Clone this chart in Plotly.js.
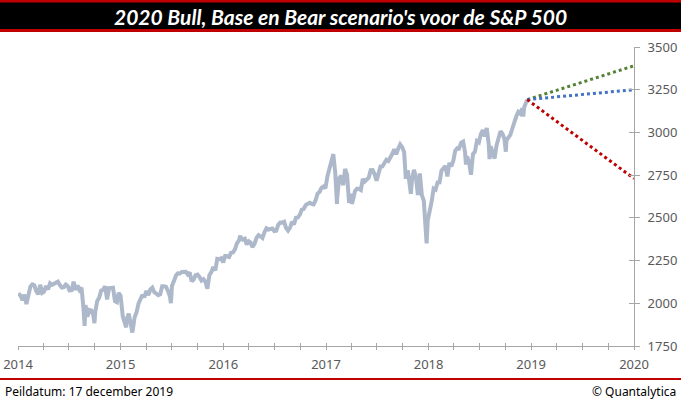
<!DOCTYPE html>
<html>
<head>
<meta charset="utf-8">
<script src="https://cdn.plot.ly/plotly-3.0.1.min.js"></script>
<style>html,body{margin:0;padding:0;background:#fff;}#chart{width:681px;height:399px;}</style>
</head>
<body>
<div id="chart"></div>
<script>
// S&P 500 (approximate weekly closes)
const dates2015 = ['2015-01-02','2015-01-09','2015-01-16','2015-01-23','2015-01-30','2015-02-06','2015-02-13','2015-02-20','2015-02-27','2015-03-06','2015-03-13','2015-03-20','2015-03-27','2015-04-02','2015-04-10','2015-04-17','2015-04-24','2015-05-01','2015-05-08','2015-05-15','2015-05-22','2015-05-29','2015-06-05','2015-06-12','2015-06-19','2015-06-26','2015-07-02','2015-07-10','2015-07-17','2015-07-24','2015-07-31','2015-08-07','2015-08-14','2015-08-21','2015-08-25','2015-08-28','2015-09-04','2015-09-11','2015-09-18','2015-09-25','2015-09-29','2015-10-02','2015-10-09','2015-10-16','2015-10-23','2015-10-30','2015-11-06','2015-11-13','2015-11-20','2015-11-27','2015-12-04','2015-12-11','2015-12-18','2015-12-24','2015-12-31'];
const close2015 = [2058,2044,2019,2051,1995,2055,2097,2110,2105,2071,2053,2108,2061,2067,2102,2081,2117,2108,2116,2123,2126,2107,2092,2094,2110,2101,2076,2077,2126,2079,2104,2078,2092,1971,1868,1989,1921,1961,1958,1931,1884,1951,2014,2033,2075,2079,2099,2023,2089,2090,2091,2012,2006,2061,2044];

const dates2016 = ['2016-01-08','2016-01-15','2016-01-20','2016-01-22','2016-01-29','2016-02-05','2016-02-11','2016-02-19','2016-02-26','2016-03-04','2016-03-11','2016-03-18','2016-03-24','2016-04-01','2016-04-08','2016-04-15','2016-04-22','2016-04-29','2016-05-06','2016-05-13','2016-05-20','2016-05-27','2016-06-03','2016-06-10','2016-06-17','2016-06-24','2016-06-27','2016-07-01','2016-07-08','2016-07-15','2016-07-22','2016-07-29','2016-08-05','2016-08-12','2016-08-19','2016-08-26','2016-09-02','2016-09-09','2016-09-16','2016-09-23','2016-09-30','2016-10-07','2016-10-14','2016-10-21','2016-10-28','2016-11-04','2016-11-11','2016-11-18','2016-11-25','2016-12-02','2016-12-09','2016-12-16','2016-12-23','2016-12-30'];
const close2016 = [1922,1880,1859,1907,1940,1880,1829,1918,1948,2000,2022,2050,2035,2073,2048,2081,2092,2065,2057,2047,2052,2099,2099,2096,2071,2037,2001,2103,2130,2162,2175,2174,2183,2184,2184,2169,2180,2128,2139,2165,2168,2153,2133,2141,2126,2085,2164,2182,2213,2192,2260,2258,2264,2239];

const dates2017 = ['2017-01-06','2017-01-13','2017-01-20','2017-01-27','2017-02-03','2017-02-10','2017-02-17','2017-02-24','2017-03-01','2017-03-03','2017-03-10','2017-03-17','2017-03-24','2017-03-31','2017-04-07','2017-04-13','2017-04-21','2017-04-28','2017-05-05','2017-05-12','2017-05-19','2017-05-26','2017-06-02','2017-06-09','2017-06-16','2017-06-23','2017-06-30','2017-07-07','2017-07-14','2017-07-21','2017-07-28','2017-08-04','2017-08-11','2017-08-18','2017-08-25','2017-09-01','2017-09-08','2017-09-15','2017-09-22','2017-09-29','2017-10-06','2017-10-13','2017-10-20','2017-10-27','2017-11-03','2017-11-10','2017-11-17','2017-11-24','2017-12-01','2017-12-08','2017-12-15','2017-12-22','2017-12-29'];
const close2017 = [2277,2275,2271,2295,2297,2316,2351,2367,2396,2383,2373,2378,2344,2363,2355,2329,2349,2384,2399,2391,2382,2416,2439,2432,2433,2438,2423,2425,2459,2473,2472,2477,2441,2426,2443,2477,2461,2500,2502,2519,2549,2553,2575,2581,2588,2582,2579,2603,2642,2652,2676,2684,2674];

const dates2018 = ['2018-01-05','2018-01-12','2018-01-19','2018-01-26','2018-02-02','2018-02-05','2018-02-08','2018-02-09','2018-02-16','2018-02-23','2018-03-02','2018-03-09','2018-03-16','2018-03-23','2018-03-29','2018-04-02','2018-04-06','2018-04-13','2018-04-20','2018-04-27','2018-05-04','2018-05-11','2018-05-18','2018-05-25','2018-06-01','2018-06-08','2018-06-15','2018-06-22','2018-06-29','2018-07-06','2018-07-13','2018-07-20','2018-07-27','2018-08-03','2018-08-10','2018-08-17','2018-08-24','2018-08-31','2018-09-07','2018-09-14','2018-09-21','2018-09-28','2018-10-05','2018-10-11','2018-10-12','2018-10-19','2018-10-26','2018-10-29','2018-11-02','2018-11-09','2018-11-16','2018-11-23','2018-11-30','2018-12-07','2018-12-14','2018-12-21','2018-12-24','2018-12-28','2018-12-31'];
const close2018 = [2743,2787,2810,2873,2762,2649,2581,2620,2732,2747,2691,2786,2752,2588,2641,2582,2604,2656,2670,2670,2663,2728,2713,2721,2735,2779,2780,2755,2718,2760,2801,2802,2819,2840,2833,2850,2875,2902,2872,2905,2930,2914,2886,2728,2767,2768,2658,2641,2723,2781,2736,2633,2760,2633,2600,2417,2351,2486,2507];

const dates2019 = ['2019-01-04','2019-01-11','2019-01-18','2019-01-25','2019-02-01','2019-02-08','2019-02-15','2019-02-22','2019-03-01','2019-03-08','2019-03-15','2019-03-22','2019-03-29','2019-04-05','2019-04-12','2019-04-18','2019-04-26','2019-05-03','2019-05-10','2019-05-13','2019-05-17','2019-05-24','2019-05-31','2019-06-07','2019-06-14','2019-06-21','2019-06-28','2019-07-05','2019-07-12','2019-07-19','2019-07-26','2019-08-02','2019-08-05','2019-08-09','2019-08-16','2019-08-23','2019-08-30','2019-09-06','2019-09-13','2019-09-20','2019-09-27','2019-10-02','2019-10-04','2019-10-11','2019-10-18','2019-10-25','2019-11-01','2019-11-08','2019-11-15','2019-11-22','2019-11-29','2019-12-03','2019-12-06','2019-12-13','2019-12-17'];
const close2019 = [2532,2596,2671,2665,2707,2708,2776,2793,2804,2743,2822,2801,2834,2893,2907,2905,2940,2946,2881,2812,2860,2826,2752,2873,2887,2950,2942,2990,3014,2977,3026,2932,2844,2919,2889,2847,2926,2979,3007,2992,2962,2887,2952,2970,2986,3023,3067,3093,3120,3110,3141,3093,3146,3169,3192];

// 2020 scenarios (start = last close, end = year-end target)
const scenarioDates = ['2019-12-17','2020-12-31'];
const bullValues = [3192, 3390];
const baseValues = [3192, 3250];
const bearValues = [3192, 2730];

// Axis ticks
const yearTickDates = ['2014-12-31','2015-12-31','2016-12-31','2017-12-31','2018-12-31','2019-12-31','2020-12-31'];
const yearTickLabels = ['2014','2015','2016','2017','2018','2019','2020'];
const quarterEnds = ['-03-31','-06-30','-09-30'];
const yTickValues = [1750,2000,2250,2500,2750,3000,3250,3500];

const spxDates = [].concat(dates2015, dates2016, dates2017, dates2018, dates2019);
const spxValues = [].concat(close2015, close2016, close2017, close2018, close2019);

// build quarterly tick positions with year labels
const xTickVals = [], xTickText = [];
for (let i = 0; i < yearTickDates.length; i++) {
  xTickVals.push(yearTickDates[i]); xTickText.push(yearTickLabels[i]);
  if (i < yearTickDates.length - 1) {
    const nextYear = yearTickLabels[i + 1];
    quarterEnds.forEach(q => { xTickVals.push(nextYear + q); xTickText.push(''); });
  }
}

const axisColor = '#a6a6a6';
const labelFont = {family: '"Noto Sans", "Open Sans", sans-serif', size: 13, color: '#595959'};

const traces = [
  {x: spxDates, y: spxValues, type: 'scatter', mode: 'lines', line: {color: '#adb9ca', width: 4}, hoverinfo: 'skip'},
  {x: scenarioDates, y: bullValues, xaxis: 'x2', yaxis: 'y2', type: 'scatter', mode: 'lines', line: {color: '#548235', width: 3, dash: 'dot'}, hoverinfo: 'skip'},
  {x: scenarioDates, y: baseValues, xaxis: 'x2', yaxis: 'y2', type: 'scatter', mode: 'lines', line: {color: '#4472c4', width: 3, dash: 'dot'}, hoverinfo: 'skip'},
  {x: scenarioDates, y: bearValues, xaxis: 'x2', yaxis: 'y2', type: 'scatter', mode: 'lines', line: {color: '#c00000', width: 3, dash: 'dot'}, hoverinfo: 'skip'}
];

// pixel helpers for paper coords (plot area: x 18..634, y 47..346)
const L = 18, R = 634, T = 47, B = 346, W = R - L, H = B - T;
const px = x => (x - L) / W;
const py = y => (B - y) / H;

const xCommon = {
  type: 'date', range: ['2014-12-31', '2020-12-31'], tickmode: 'array',
  tickvals: xTickVals, ticktext: xTickText, ticklen: 3, tickwidth: 1, tickcolor: axisColor,
  showgrid: false, zeroline: false, fixedrange: true
};
const yCommon = {
  range: [1750, 3500], tickmode: 'array', tickvals: yTickValues, ticklen: 5, tickwidth: 1,
  tickcolor: axisColor, showgrid: false, zeroline: false, fixedrange: true, side: 'right'
};

const layout = {
  width: 681, height: 399,
  margin: {l: L, r: 681 - R, t: T, b: 399 - B, pad: 0},
  paper_bgcolor: '#ffffff', plot_bgcolor: '#ffffff',
  showlegend: false,
  font: labelFont,
  xaxis: Object.assign({}, xCommon, {ticks: 'outside', showline: true, linecolor: axisColor, linewidth: 1, tickfont: labelFont, ticklabelstandoff: 3}),
  yaxis: Object.assign({}, yCommon, {ticks: 'outside', showline: true, linecolor: axisColor, linewidth: 1, tickfont: labelFont, ticklabelstandoff: 5}),
  xaxis2: Object.assign({}, xCommon, {overlaying: 'x', anchor: 'y2', ticks: 'inside', showline: false, showticklabels: false}),
  yaxis2: Object.assign({}, yCommon, {overlaying: 'y', anchor: 'x2', ticks: 'inside', ticklen: 5, showline: false, showticklabels: false}),
  shapes: [
    {type: 'rect', xref: 'paper', yref: 'paper', x0: px(0), x1: px(681), y0: py(32), y1: py(0), fillcolor: '#c00000', line: {width: 0}, layer: 'below'},
    {type: 'rect', xref: 'paper', yref: 'paper', x0: px(0), x1: px(681), y0: py(29), y1: py(2.5), fillcolor: '#000000', line: {width: 0}, layer: 'below'},
    {type: 'rect', xref: 'paper', yref: 'paper', x0: px(0), x1: px(681), y0: py(380), y1: py(378), fillcolor: '#c00000', line: {width: 0}, layer: 'below'}
  ],
  annotations: [
    {xref: 'paper', yref: 'paper', x: px(340.5), y: py(16), xanchor: 'center', yanchor: 'middle', showarrow: false,
     text: "2020 Bull, Base en Bear scenario's voor de S&P 500",
     font: {family: 'Lato, "Open Sans", sans-serif', size: 21, color: '#ffffff', weight: 'bold', style: 'italic'}},
    {xref: 'paper', yref: 'paper', x: px(3), y: py(391), xanchor: 'left', yanchor: 'middle', showarrow: false,
     text: 'Peildatum: 17 december 2019', font: {family: '"Noto Sans", sans-serif', size: 12, color: '#000000'}},
    {xref: 'paper', yref: 'paper', x: px(678), y: py(391), xanchor: 'right', yanchor: 'middle', showarrow: false,
     text: '© Quantalytica', font: {family: '"Noto Sans", sans-serif', size: 12, color: '#000000'}}
  ]
};

Plotly.newPlot('chart', traces, layout, {displayModeBar: false, staticPlot: true});
</script>
</body>
</html>
